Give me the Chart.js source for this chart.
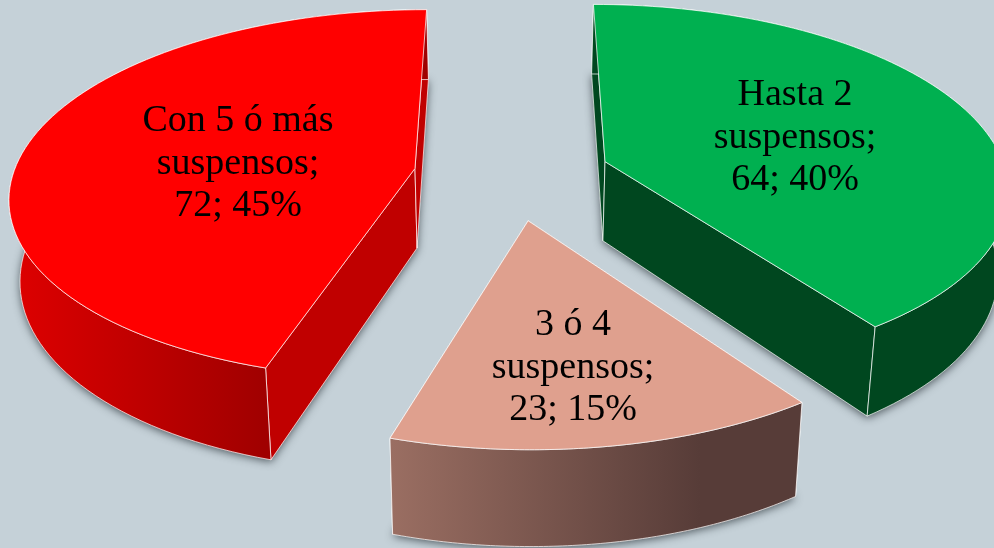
<!DOCTYPE html>
<html><head><meta charset="utf-8">
<style>html,body{margin:0;padding:0;background:#c5d1d8;overflow:hidden}canvas{display:block}</style>
<script src="https://cdn.jsdelivr.net/npm/chart.js@4"></script></head>
<body><canvas id="c" width="994" height="548"></canvas>
<script>
const categories = ["Hasta 2 suspensos", "3 ó 4 suspensos", "Con 5 ó más suspensos"];
const counts = [64, 23, 72];
const percents = ["40%", "15%", "45%"];
const labelLines = [["Hasta 2", "suspensos;"], ["3 ó 4", "suspensos;"], ["Con 5 ó más", "suspensos;"]];

const topColors = ["#00B050", "#DFA08E", "#FF0000"];
const edgeColors = ["#00471F", "#6b4a43", "#C00000"];
const wallStops = [["#00471F", "#00471F"], ["#9A6E62", "#573C38"], ["#DC0000", "#A00000"]];
const wallSpan = [[860, 990], [392, 700], [20, 265]];
const labelBase = [[795, 105], [573, 335], [238, 131]];
const labelGap = 42.5;

const view = {X0: 510, x0: 2, horizon: -1130, d0: 1305, k: 0.14, Rx: 402, depth: 80, shrink: 0.978};
function project(u, v, low) {
  const s = 1 / (1 - view.k * v);
  let x = view.X0 + (view.x0 + view.Rx * u) * s;
  let y = view.horizon + view.d0 * s;
  if (low) { x = view.X0 + (x - view.X0) * view.shrink; y += view.depth * s; }
  return [x, y];
}
function arcPlane(el) {
  const p = el.getProps(["startAngle", "endAngle", "outerRadius"], true);
  const mid = (p.startAngle + p.endAngle) / 2;
  const e = (el.options.offset / 4) / p.outerRadius;
  return {a: p.startAngle, b: p.endAngle, ou: e * Math.cos(mid), ov: e * Math.sin(mid)};
}
function rim(pl, low, rev) {
  const pts = [], n = 90;
  for (let i = 0; i <= n; i++) {
    const t = pl.a + (pl.b - pl.a) * (rev ? n - i : i) / n;
    pts.push(project(pl.ou + Math.cos(t), pl.ov + Math.sin(t), low));
  }
  return pts;
}
function path(ctx, pts) {
  ctx.beginPath();
  pts.forEach((p, i) => i ? ctx.lineTo(p[0], p[1]) : ctx.moveTo(p[0], p[1]));
  ctx.closePath();
}
const pie3d = {
  id: "pie3d",
  beforeDatasetsDraw(chart) {
    const ctx = chart.ctx, arcs = chart.getDatasetMeta(0).data;
    const line = "rgba(255,255,255,0.72)";
    arcs.forEach((el, i) => {
      const pl = arcPlane(el);
      const apexT = project(pl.ou, pl.ov, false), apexB = project(pl.ou, pl.ov, true);
      const topRim = rim(pl, false, false), lowRim = rim(pl, true, false);
      const first = topRim[0], last = topRim[topRim.length - 1];
      const firstL = lowRim[0], lastL = lowRim[lowRim.length - 1];
      ctx.save();
      ctx.lineJoin = "round";
      // ground shadow from the lower face
      ctx.save();
      ctx.shadowColor = "rgba(40,50,55,0.75)";
      ctx.shadowBlur = 9;
      ctx.shadowOffsetY = 2;
      ctx.fillStyle = edgeColors[i];
      path(ctx, [apexB, ...lowRim]);
      ctx.fill();
      ctx.restore();
      // radial walls
      ctx.fillStyle = edgeColors[i];
      ctx.strokeStyle = line;
      ctx.lineWidth = 1;
      [[first, firstL], [last, lastL]].forEach(w => {
        path(ctx, [apexT, w[0], w[1], apexB]);
        ctx.fill();
        ctx.stroke();
      });
      // outer wall
      const g = ctx.createLinearGradient(wallSpan[i][0], 0, wallSpan[i][1], 0);
      g.addColorStop(0, wallStops[i][0]);
      g.addColorStop(1, wallStops[i][1]);
      ctx.fillStyle = g;
      path(ctx, [...topRim, ...lowRim.slice().reverse()]);
      ctx.fill();
      ctx.stroke();
      // top face
      ctx.fillStyle = el.options.backgroundColor;
      ctx.strokeStyle = line;
      path(ctx, [apexT, ...topRim]);
      ctx.fill();
      ctx.stroke();
      ctx.restore();
    });
    return false;
  },
  afterDraw(chart) {
    const ctx = chart.ctx;
    ctx.save();
    ctx.fillStyle = "#000";
    ctx.textAlign = "center";
    ctx.textBaseline = "alphabetic";
    ctx.font = '38px "Liberation Serif"';
    labelLines.forEach((lines, i) => {
      const all = [...lines, counts[i] + "; " + percents[i]];
      all.forEach((t, j) => ctx.fillText(t, labelBase[i][0], labelBase[i][1] + j * labelGap));
    });
    ctx.restore();
  }
};
new Chart(document.getElementById("c"), {
  type: "pie",
  data: {labels: categories, datasets: [{
    data: counts,
    backgroundColor: topColors,
    borderColor: "rgba(255,255,255,0.72)",
    borderWidth: 1,
    offset: 180
  }]},
  options: {
    responsive: false,
    animation: false,
    events: [],
    layout: {padding: 0},
    plugins: {legend: {display: false}, title: {display: false}, tooltip: {enabled: false}}
  },
  plugins: [pie3d]
});
</script></body></html>
